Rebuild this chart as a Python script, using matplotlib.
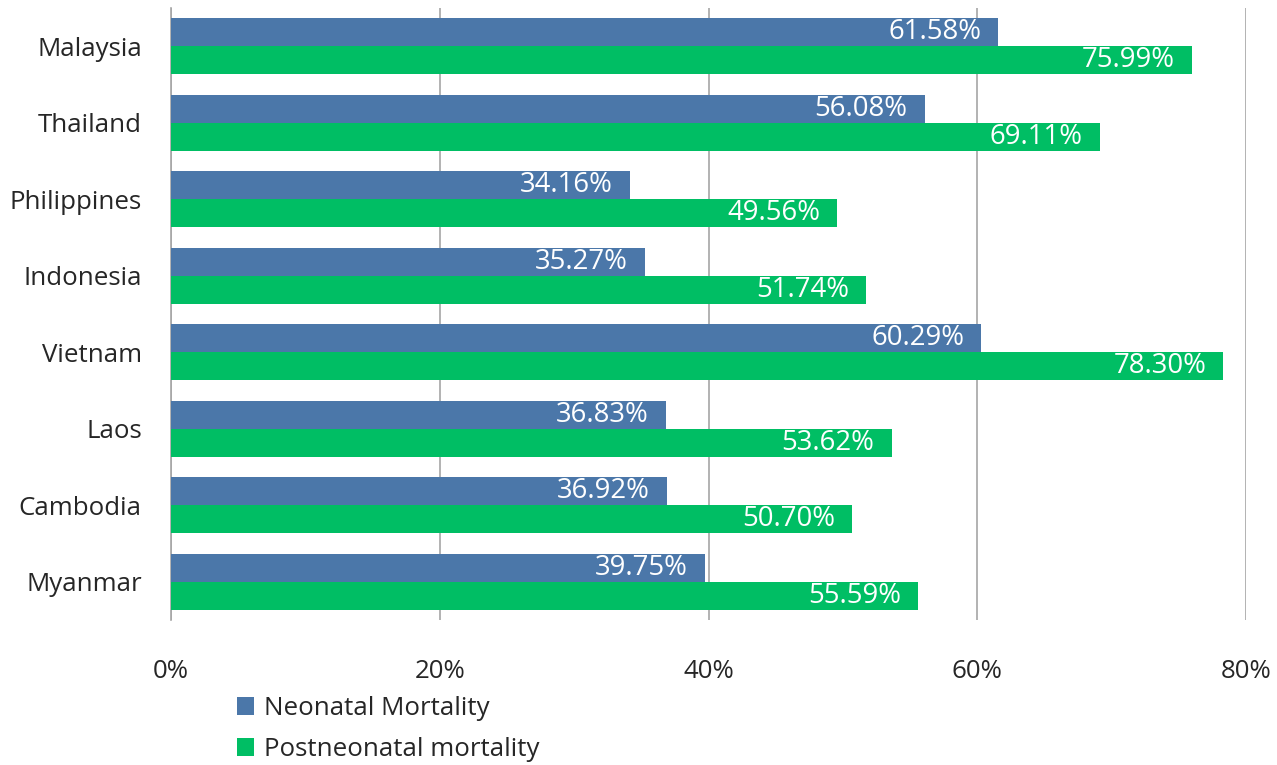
import matplotlib
matplotlib.use("Agg")
import matplotlib.pyplot as plt
import numpy as np

countries = ["Malaysia", "Thailand", "Philippines", "Indonesia",
             "Vietnam", "Laos", "Cambodia", "Myanmar"]
neonatal = [61.58, 56.08, 34.16, 35.27, 60.29, 36.83, 36.92, 39.75]
postneonatal = [75.99, 69.11, 49.56, 51.74, 78.30, 53.62, 50.70, 55.59]
series_names = ["Neonatal Mortality", "Postneonatal mortality"]
x_ticks = [0, 20, 40, 60, 80]
x_ticklabels = ["0%", "20%", "40%", "60%", "80%"]

BLUE = "#4B77A9"
GREEN = "#00BE64"
GRID = "#A6A6A6"
TEXT = "#262626"

plt.rcParams["font.family"] = ["Open Sans", "DejaVu Sans"]

fig = plt.figure(figsize=(12.77, 7.65), dpi=100)
ax = fig.add_axes([171 / 1277, 145 / 765, (1246 - 171) / 1277, (757 - 145) / 765])

y = np.arange(len(countries))
h = 0.366
b1 = ax.barh(y - h / 2, neonatal, height=h, color=BLUE, label=series_names[0], zorder=3)
b2 = ax.barh(y + h / 2, postneonatal, height=h, color=GREEN, label=series_names[1], zorder=3)

for bars, vals in ((b1, neonatal), (b2, postneonatal)):
    for bar, v in zip(bars, vals):
        ax.annotate(f"{v:.2f}%", xy=(v, bar.get_y() + bar.get_height() / 2),
                    xytext=(-17, 0), textcoords="offset pixels",
                    ha="right", va="center", color="white", fontsize=19.8,
                    fontweight="medium", zorder=4)

ax.set_ylim(len(countries) - 0.5, -0.5)
ax.set_xlim(0, 80)
ax.set_yticks(y)
ax.set_yticklabels(countries, fontsize=18.6, color=TEXT)
ax.set_xticks(x_ticks)
ax.set_xticklabels(x_ticklabels, fontsize=18.6, color=TEXT)
ax.tick_params(axis="both", length=0)
ax.tick_params(axis="y", pad=21)
ax.tick_params(axis="x", pad=28)

ax.grid(axis="x", color=GRID, linewidth=1.2, zorder=0)
for side in ("top", "right", "bottom"):
    ax.spines[side].set_visible(False)
ax.spines["left"].set_color(GRID)
ax.spines["left"].set_linewidth(1.2)

fig.legend(handles=[b1, b2], labels=series_names, loc="center left",
           bbox_to_anchor=(227 / 1277, 1 - 729 / 765), frameon=False,
           borderaxespad=0, fontsize=18.6, handlelength=0.66, handleheight=0.66,
           handletextpad=0.39, labelspacing=0.62, labelcolor=TEXT)

fig.savefig("out.png", dpi=100)
